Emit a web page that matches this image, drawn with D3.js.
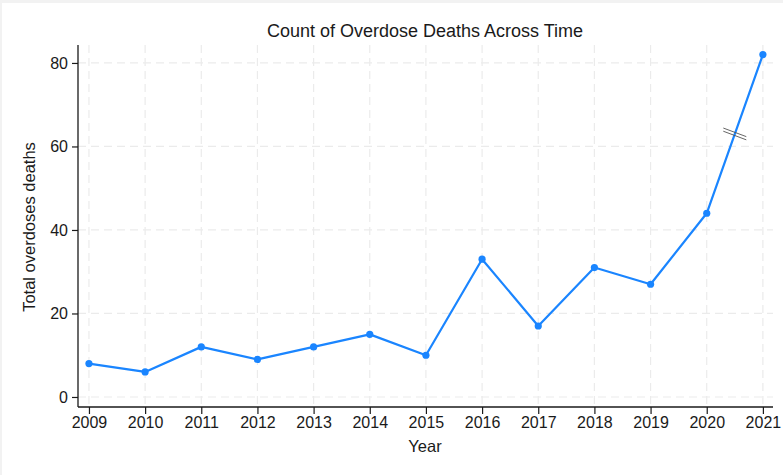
<!DOCTYPE html>
<html>
<head>
<meta charset="utf-8">
<script src="https://cdn.jsdelivr.net/npm/d3@7"></script>
<style>
  html, body { margin: 0; padding: 0; background: #fff; }
  svg { display: block; }
  text { font-family: "Liberation Sans", Arial, sans-serif; fill: #1a1a1a; }
</style>
</head>
<body>
<svg id="chart" width="783" height="475"></svg>
<script>
const years = [2009, 2010, 2011, 2012, 2013, 2014, 2015, 2016, 2017, 2018, 2019, 2020, 2021];
const deaths = [8, 6, 12, 9, 12, 15, 10, 33, 17, 31, 27, 44, 82];
const yTicks = [0, 20, 40, 60, 80];
const title = "Count of Overdose Deaths Across Time";
const xTitle = "Year";
const yTitle = "Total overdoses deaths";

(function () {
const svg = d3.select("#chart");
const W = 783, H = 475;

// outer frame edges
svg.append("rect").attr("x", 0).attr("y", 0).attr("width", W).attr("height", H).attr("fill", "#f2f2f2");
svg.append("rect").attr("x", 2).attr("y", 3).attr("width", W - 2).attr("height", H - 3).attr("fill", "#ffffff");

const pL = 78, pR = 773, pT = 45, pB = 407;
const x = d3.scaleLinear().domain([2008.805, 2021.18]).range([pL, pR]);
const y = d3.scaleLinear().domain([-2.4, 84.3]).range([pB, pT]);

// grid
const grid = svg.append("g").attr("stroke", "#ebebeb").attr("stroke-width", 1.2).attr("stroke-dasharray", "8,5");
grid.selectAll("line.v").data(years).join("line").attr("class", "v")
  .attr("x1", d => x(d)).attr("x2", d => x(d))
  .attr("y1", pT).attr("y2", pB);
grid.selectAll("line.h").data(yTicks).join("line").attr("class", "h")
  .attr("x1", pL).attr("x2", pR)
  .attr("y1", d => y(d)).attr("y2", d => y(d));

// axes
const xAxis = d3.axisBottom(x).tickValues(years).tickFormat(d3.format("d")).tickSize(7).tickSizeOuter(0).tickPadding(3);
const yAxis = d3.axisLeft(y).tickValues(yTicks).tickSize(6).tickSizeOuter(0).tickPadding(4);

const gx = svg.append("g").attr("transform", `translate(0,${pB})`).call(xAxis);
const gy = svg.append("g").attr("transform", `translate(${pL},0)`).call(yAxis);
[gx, gy].forEach(g => {
  g.select(".domain").attr("stroke", "#1a1a1a").attr("stroke-width", 1.3);
  g.selectAll(".tick line").attr("stroke", "#1a1a1a").attr("stroke-width", 1.2);
  g.selectAll(".tick text").attr("font-size", 16).attr("fill", "#1a1a1a")
    .attr("font-family", '"Liberation Sans", Arial, sans-serif');
});
gx.select(".domain").attr("d", `M${pL},0H${pR}`);
gy.select(".domain").attr("d", `M0,${pT}V${pB}`);
gy.selectAll(".tick text").attr("dy", "0.34em");

// line
const data = years.map((yr, i) => ({ yr, v: deaths[i] }));
svg.append("path").datum(data)
  .attr("fill", "none").attr("stroke", "#1a85ff").attr("stroke-width", 2.2)
  .attr("stroke-linejoin", "round")
  .attr("d", d3.line().x(d => x(d.yr)).y(d => y(d.v)));
svg.append("g").selectAll("circle").data(data).join("circle")
  .attr("cx", d => x(d.yr)).attr("cy", d => y(d.v)).attr("r", 3.6)
  .attr("fill", "#1a85ff");

// break marks at midpoint of last segment
const n = data.length;
const mx = (x(data[n - 2].yr) + x(data[n - 1].yr)) / 2;
const my = (y(data[n - 2].v) + y(data[n - 1].v)) / 2;
const bm = svg.append("g").attr("stroke", "#555").attr("stroke-width", 0.9);
[-1.6, 1.6].forEach(off => {
  bm.append("line")
    .attr("x1", mx - 11.5).attr("y1", my - 4.3 + off)
    .attr("x2", mx + 11.5).attr("y2", my + 4.3 + off);
});

// titles
svg.append("text").attr("x", 425).attr("y", 37).attr("text-anchor", "middle")
  .attr("font-size", 18).text(title);
svg.append("text").attr("x", 425).attr("y", 452).attr("text-anchor", "middle")
  .attr("font-size", 16.5).text(xTitle);
svg.append("text").attr("transform", `translate(35,${(pT + pB) / 2 + 1}) rotate(-90)`)
  .attr("text-anchor", "middle").attr("font-size", 16.5).text(yTitle);
})();
</script>
</body>
</html>
